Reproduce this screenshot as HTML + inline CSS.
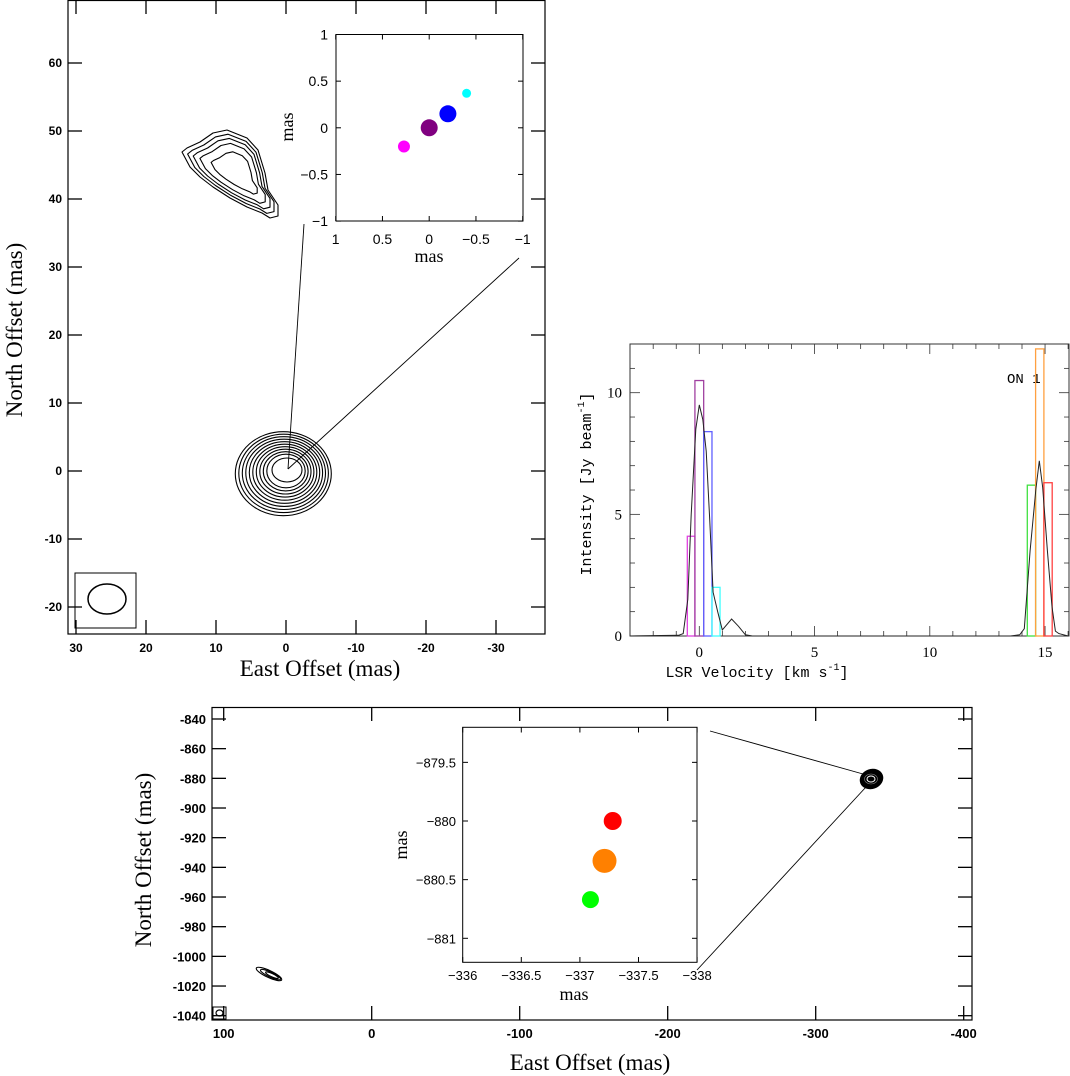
<!DOCTYPE html>
<html><head><meta charset="utf-8"><style>
html,body{margin:0;padding:0;background:#fff}
svg{display:block}
.sans{font-family:"Liberation Sans",sans-serif}
.serif{font-family:"Liberation Serif",serif}
.mono{font-family:"Liberation Mono",monospace}
</style></head><body>
<svg id="fig" width="1070" height="1076" viewBox="0 0 1070 1076" xmlns="http://www.w3.org/2000/svg"></svg>
<script>
// ---- Spectrum data ----
const specVel = [-3,-0.9,-0.7,-0.5,-0.35,-0.15,0,0.15,0.3,0.45,0.6,0.8,1.0,1.4,1.7,2.0,2.3,13.5,13.9,14.1,14.35,14.6,14.75,14.9,15.1,15.3,15.45,15.6,16];
const specInt = [0,0.03,0.1,1.5,5,8.5,9.5,8.9,7.6,4.8,1.8,1.0,0.25,0.7,0.4,0.05,0,0,0.05,0.3,3.5,6,7.2,6.1,3.5,1.2,0.2,0.1,0];
const barLo = [-0.52,-0.19,0.19,0.55,14.23,14.59,14.95];
const barHi = [-0.19,0.19,0.55,0.9,14.59,14.95,15.31];
const barVal = [4.1,10.5,8.4,2.0,6.2,11.8,6.3];
const barColor = ['#e040e0','#a040a0','#6060ff','#40ffff','#40e040','#ffa040','#ff4040'];
const specXTicks = [0,5,10,15];
const specYTicks = [0,5,10];
// ---- Inset 1 spots ----
const spot1X = [0.27,0,-0.2,-0.4];
const spot1Y = [-0.2,0,0.15,0.37];
const spot1R = [6,8.5,8.5,4.5];
const spot1C = ['#ff00ff','#800080','#0000ff','#00ffff'];
const inset1Ticks = [1,0.5,0,-0.5,-1];
const inset1TickLabels = ['1','0.5','0','\u22120.5','\u22121'];
// ---- Inset 2 spots ----
const spot2X = [-337.28,-337.21,-337.09];
const spot2Y = [-880.0,-880.34,-880.67];
const spot2R = [9,12,8.5];
const spot2C = ['#ff0000','#ff8000','#00ff00'];
const inset2XTicks = [-336,-336.5,-337,-337.5,-338];
const inset2XLabels = ['\u2212336','\u2212336.5','\u2212337','\u2212337.5','\u2212338'];
const inset2YTicks = [-879.5,-880,-880.5,-881];
const inset2YLabels = ['\u2212879.5','\u2212880','\u2212880.5','\u2212881'];
// ---- Map ticks ----
const map1XTicks = [30,20,10,0,-10,-20,-30];
const map1YTicks = [60,50,40,30,20,10,0,-10,-20];
const map2XTicks = [100,0,-100,-200,-300,-400];
const map2YTicks = [-840,-860,-880,-900,-920,-940,-960,-980,-1000,-1020,-1040];

const NS='http://www.w3.org/2000/svg';
const svg=document.getElementById('fig');
function mk(tag,attrs,parent){const e=document.createElementNS(NS,tag);for(const k in attrs)e.setAttribute(k,attrs[k]);(parent||svg).appendChild(e);return e;}
function txt(s,x,y,cls,size,anchor,parent,rot){const t=mk('text',{x:x,y:y,'font-size':size,'text-anchor':anchor||'middle',class:cls},parent);if(rot)t.setAttribute('transform','rotate(-90 '+x+' '+y+')');t.textContent=s;return t;}
function lin(x1,y1,x2,y2,w,c,parent){return mk('line',{x1:x1,y1:y1,x2:x2,y2:y2,stroke:c||'#000','stroke-width':w||1},parent);}
function supText(t,a,b,c){const s1=mk('tspan',{},t);s1.textContent=a;const s2=mk('tspan',{dy:-7,'font-size':10},t);s2.textContent=b;const s3=mk('tspan',{dy:7},t);s3.textContent=c;}

// ===== Panel 1: top-left map =====
const g1=mk('g',{});


const m1x=v=>286-7.0*v, m1y=v=>471-6.8*v;
mk('rect',{x:68,y:0.5,width:477,height:633.5,fill:'none',stroke:'#000','stroke-width':1.2},g1);
map1XTicks.forEach(v=>{const x=m1x(v);lin(x,634,x,620,1.3,'#000',g1);lin(x,0,x,14,1.3,'#000',g1);
 const t=txt(String(v),x,652,'sans',12,'middle',g1);t.setAttribute('font-weight','bold');
 });
map1YTicks.forEach(v=>{const y=m1y(v);lin(68,y,82,y,1.3,'#000',g1);lin(545,y,531,y,1.3,'#000',g1);
 const t=txt(String(v),62,y+4,'sans',12,'end',g1);t.setAttribute('font-weight','bold');
 });
const xl1=txt('East Offset (mas)',320,676,'serif',23,'middle',g1);

const yl1=txt('North Offset (mas)',22,330,'serif',23,'middle',g1,true);

// central contours
const cc=mk('g',{fill:'none',stroke:'#000','stroke-width':1.1},g1);

for(let i=0;i<10;i++){const rx=48-i*3.2,ry=42-i*2.8;mk('ellipse',{cx:286-0.3*(9-i),cy:471+(9-i)*0.3,rx:rx,ry:ry},cc);}
mk('ellipse',{cx:287,cy:470,rx:15,ry:12},cc);
// upper contours
const outer=[[182,152],[190,167],[200,177],[213,187],[230,198],[247,207],[262,213],[270,218],[278,216],[278,205],[268,190],[265,173],[258,150],[247,138],[227,130],[213,133],[200,142],[187,148]];
const uc=mk('g',{fill:'none',stroke:'#000','stroke-width':1.1},g1);

const ucx=238,ucy=172;
[1,0.9,0.8,0.68,0.48].forEach(s=>{mk('path',{d:'M'+outer.map(p=>[(ucx+(p[0]-ucx)*s).toFixed(1),(ucy+(p[1]-ucy)*s).toFixed(1)].join(',')).join(' L')+' Z','stroke-linejoin':'round'},uc);});
// beam
const bb=mk('g',{},g1);
mk('rect',{x:75,y:573,width:61,height:55,fill:'none',stroke:'#000','stroke-width':1},bb);
mk('ellipse',{cx:107,cy:599,rx:19,ry:15,fill:'none',stroke:'#000','stroke-width':1.5},bb);
// connector lines
lin(304,224,288,469,0.9,'#000',g1);lin(519,258,288,469,0.9,'#000',g1);
// inset 1
const gi=mk('g',{},g1);
const i1x=v=>429.2-93.5*v, i1y=v=>127.8-93.3*v;
mk('rect',{x:336,y:34.5,width:187,height:186.5,fill:'#fff',stroke:'#000','stroke-width':1},gi);
inset1Ticks.forEach((v,k)=>{const x=i1x(v),y=i1y(v);
 lin(x,221,x,216,1,'#000',gi);lin(x,34.5,x,39.5,1,'#000',gi);lin(336,y,341,y,1,'#000',gi);lin(523,y,518,y,1,'#000',gi);
 txt(inset1TickLabels[k],x,244,'sans',14,'middle',gi);txt(inset1TickLabels[k],328,y+5,'sans',14,'end',gi);});
txt('mas',429,262,'serif',18,'middle',gi);txt('mas',293,127,'serif',18,'middle',gi,true);
spot1X.forEach((v,k)=>{const c=mk('circle',{cx:i1x(v),cy:i1y(spot1Y[k]),r:spot1R[k],fill:spot1C[k]},gi);
 });

// ===== Panel 2: spectrum =====
const g2=mk('g',{});
const sx=v=>699.3+23.05*v, sy=v=>636-24.33*v;
mk('rect',{x:630,y:344,width:439,height:292,fill:'none',stroke:'#333','stroke-width':1},g2);
for(let v=-2;v<=16;v++){const x=sx(v),big=v%5===0;lin(x,636,x,636-(big?10:5),0.8,'#333',g2);lin(x,344,x,344+(big?10:5),0.8,'#333',g2);}
for(let v=0;v<=11;v++){const y=sy(v),big=v%5===0;lin(630,y,630+(big?10:5),y,0.8,'#333',g2);lin(1069,y,1069-(big?10:5),y,0.8,'#333',g2);}
specXTicks.forEach(v=>txt(String(v),sx(v),657,'serif',15,'middle',g2));
specYTicks.forEach(v=>txt(String(v),622,sy(v)+5,'serif',15,'end',g2));
const sxl=mk('text',{x:757,y:677,'font-size':15,'text-anchor':'middle',class:'mono'},g2);
supText(sxl,'LSR Velocity [km s','-1',']');

const syl=mk('text',{x:591,y:484,'font-size':15,'text-anchor':'middle',class:'mono',transform:'rotate(-90 591 484)'},g2);
supText(syl,'Intensity [Jy beam','-1',']');

const on=txt('ON 1',1007,383,'mono',14,'start',g2);
barLo.forEach((lo,k)=>{const r=mk('rect',{x:sx(lo),y:sy(barVal[k]),width:sx(barHi[k])-sx(lo),height:sy(0)-sy(barVal[k]),fill:'none',stroke:barColor[k],'stroke-width':1.3},g2);
 });
const sp=mk('polyline',{points:specVel.map((v,k)=>sx(v).toFixed(1)+','+sy(specInt[k]).toFixed(1)).join(' '),fill:'none',stroke:'#222','stroke-width':1},g2);


// ===== Panel 3: bottom map =====
const g3=mk('g',{});
const m2x=v=>371.7-1.48*v, m2y=v=>719-1.4835*(v+840);
mk('rect',{x:212,y:707.5,width:760,height:312.5,fill:'none',stroke:'#000','stroke-width':1.2},g3);
map2XTicks.forEach(v=>{const x=m2x(v);lin(x,1020,x,1006,1.3,'#000',g3);lin(x,707,x,721,1.3,'#000',g3);
 const t=txt(String(v),x,1038,'sans',13,'middle',g3);t.setAttribute('font-weight','bold');
 });
map2YTicks.forEach(v=>{const y=m2y(v);lin(212,y,226,y,1.3,'#000',g3);lin(972,y,958,y,1.3,'#000',g3);
 const t=txt(String(v),206,y+5,'sans',13,'end',g3);t.setAttribute('font-weight','bold');
 });
const xl3=txt('East Offset (mas)',590,1070,'serif',23,'middle',g3);
const yl3=txt('North Offset (mas)',151,860,'serif',23,'middle',g3,true);
// small beam
mk('rect',{x:213,y:1007,width:13,height:12,fill:'none',stroke:'#000','stroke-width':1},g3);
mk('ellipse',{cx:219.5,cy:1013,rx:3.5,ry:3,fill:'none',stroke:'#000','stroke-width':1.2},g3);
// lower-left contour
const lc=mk('g',{fill:'none',stroke:'#000','stroke-width':1.1},g3);
[[14,3.5],[11,2.5],[7,1.6]].forEach((r,k)=>mk('ellipse',{cx:269+k*1.5,cy:974+k*0.6,rx:r[0],ry:r[1],transform:'rotate(25 '+(269+k*1.5)+' '+(974+k*0.6)+')'},lc));
// east blob
const eb=mk('g',{},g3);
mk('ellipse',{cx:871.5,cy:779,rx:12,ry:10,fill:'#000',transform:'rotate(-20 871.5 779)'},eb);
mk('ellipse',{cx:871,cy:779,rx:4,ry:3,fill:'none',stroke:'#fff','stroke-width':1},eb);
mk('ellipse',{cx:871,cy:779,rx:6.5,ry:5,fill:'none',stroke:'#888','stroke-width':0.6},eb);
lin(710,731,863,774,0.9,'#000',g3);lin(697,970,866,787,0.9,'#000',g3);
// inset 2
const gj=mk('g',{},g3);
const i2x=v=>462.7-117.2*(v+336), i2y=v=>821-117.3*(v+880);
mk('rect',{x:462.7,y:727.3,width:234.3,height:235,fill:'#fff',stroke:'#000','stroke-width':1},gj);
inset2XTicks.forEach((v,k)=>{const x=i2x(v);lin(x,962.3,x,957,1,'#000',gj);lin(x,727.3,x,732.5,1,'#000',gj);
 txt(inset2XLabels[k],x,980,'sans',13,'middle',gj);});
inset2YTicks.forEach((v,k)=>{const y=i2y(v);lin(462.7,y,468,y,1,'#000',gj);lin(697,y,692,y,1,'#000',gj);
 txt(inset2YLabels[k],456,y+5,'sans',13,'end',gj);});
txt('mas',574,1000,'serif',18,'middle',gj);txt('mas',407,845,'serif',18,'middle',gj,true);
spot2X.forEach((v,k)=>{const c=mk('circle',{cx:i2x(v),cy:i2y(spot2Y[k]),r:spot2R[k],fill:spot2C[k]},gj);
 });
</script>
</body></html>
